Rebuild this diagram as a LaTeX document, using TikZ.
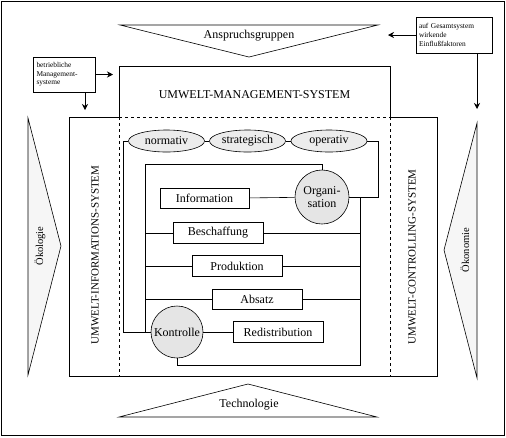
\documentclass[tikz,border=0pt]{standalone}
\usepackage{fontspec}
\setmainfont{Liberation Serif}
\usetikzlibrary{arrows.meta,shapes.geometric,calc}
\begin{document}
\begin{tikzpicture}[x=1pt,y=-1pt,line width=0.6pt,
  lbl/.style={font=\fontsize{12}{14}\selectfont},
  vtext/.style={rotate=90,font=\fontsize{11}{13}\selectfont},
  ttext/.style={rotate=90,font=\fontsize{10.5}{12}\selectfont},
  boxn/.style={draw,fill=white,minimum width=90pt,minimum height=20.5pt,inner sep=0pt,font=\fontsize{12}{14}\selectfont},
  ell/.style={draw,ellipse,fill=gray!15,minimum width=76pt,minimum height=22pt,inner sep=0pt,font=\fontsize{12}{14}\selectfont},
  circ/.style={draw,circle,fill=gray!20,inner sep=0pt,align=center,font=\fontsize{12}{13}\selectfont},
  smallbox/.style={draw,fill=white,align=left,font=\fontsize{7.4}{8.6}\selectfont,inner sep=0pt},
  arr/.style={-{Stealth[length=6pt,width=6pt]}},
  tri/.style={draw,fill=white},
  gtri/.style={draw,fill=gray!7}]
\useasboundingbox (0,0) rectangle (506,437);
\draw (1,1) rectangle (504,435);

% outer triangles
\draw[tri] (120,25) -- (378,25) -- (249,57) -- cycle;
\node[lbl] (ansp) at (249,36) {Anspruchsgruppen};
\draw[tri] (119,417) -- (377,417) -- (248,384) -- cycle;
\node[lbl] (tech) at (249,405) {Technologie};
\draw[gtri] (28,118) -- (61,246) -- (28,375) -- cycle;
\node[ttext] (oeko1) at (40,246) {Ökologie};
\draw[gtri] (477,123) -- (444,250) -- (477,378) -- cycle;
\node[ttext] (oeko2) at (465,250) {Ökonomie};

% small boxes
\node[smallbox,minimum width=62pt,minimum height=35pt,text width=55pt] (betr) at (64,74.5) {betriebliche\\Management-\\systeme};
\node[smallbox,minimum width=76pt,minimum height=36pt,text width=70pt] (einf) at (454,35) {auf Gesamtsystem\\wirkende\\Einflußfaktoren};
\coordinate (a1) at (113,74.5);
\coordinate (a2) at (85,110);
\coordinate (a2s) at (85,92);
\coordinate (a3) at (388,35);
\coordinate (a4s) at (477,53);
\coordinate (a4) at (477,109);
\draw[arr] (betr.east) -- (a1);
\draw[arr] (a2s) -- (a2);
\draw[arr] (einf.west) -- (a3);
\draw[arr] (a4s) -- (a4);

% frames
\draw (119,117) -- (69,117) -- (69,376) -- (437,376) -- (437,117) -- (390,117);
\draw (119,117) -- (119,66) -- (390,66) -- (390,117);
\draw[dashed] (119,117) -- (390,117);
\draw[dashed] (119,117) -- (119,376);
\draw[dashed] (390,117) -- (390,376);
\node[lbl] (ums) at (254.5,95) {UMWELT-MANAGEMENT-SYSTEM};
\node[vtext] (uis) at (95,255) {UMWELT-INFORMATIONS-SYSTEM};
\node[vtext] (ucs) at (412,257) {UMWELT-CONTROLLING-SYSTEM};

% ellipses
\node[ell] (norm) at (166.5,141) {normativ};
\node[ell] (strat) at (247.5,141) {strategisch};
\node[ell] (oper) at (329,141) {operativ};
\draw (norm) -- (strat);
\draw (strat) -- (oper);

% circles
\node[circ,minimum size=54pt] (org) at (322,197) {Organi-\\sation};
\node[circ,minimum size=52pt] (kon) at (177,332) {Kontrolle};

% boxes
\node[boxn,minimum width=89pt] (info) at (204.5,198.5) {Information};
\node[boxn] (besch) at (218,233) {Beschaffung};
\node[boxn] (prod) at (237,266) {Produktion};
\node[boxn] (abs) at (257,299.5) {Absatz};
\node[boxn] (redis) at (278,332) {Redistribution};

% connectors
\coordinate (lvx) at (145,164);
\coordinate (rvx) at (360,197);
\coordinate (ol) at (123,141);
\coordinate (orr) at (378,141);
\coordinate (rb) at (360,365);
\draw (norm.west) -- (ol) |- (kon.west);
\draw (oper.east) -- (orr) |- (org.east);
\draw (org.north) |- (lvx) |- (kon.west);
\draw (rvx) -- (rb) -| (kon.south);
\draw (info) -- (org);
\draw (kon) -- (redis);
\draw (besch.west) -- (besch.west -| lvx);
\draw (besch.east) -- (besch.east -| rvx);
\draw (prod.west) -- (prod.west -| lvx);
\draw (prod.east) -- (prod.east -| rvx);
\draw (abs.west) -- (abs.west -| lvx);
\draw (abs.east) -- (abs.east -| rvx);
\end{tikzpicture}
\end{document}
